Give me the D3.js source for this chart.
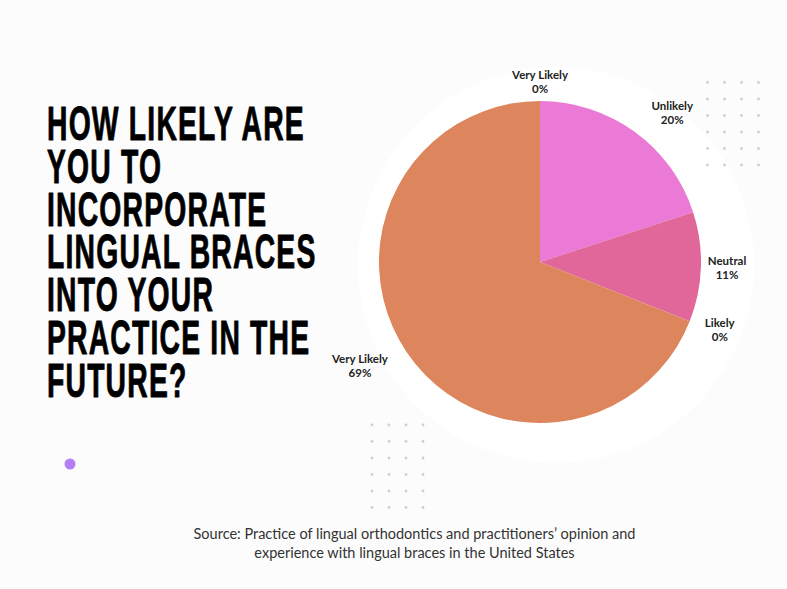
<!DOCTYPE html>
<html>
<head>
<meta charset="utf-8">
<script src="https://cdn.jsdelivr.net/npm/d3@7"></script>
<style>
  html, body { margin: 0; padding: 0; background: #fcfcfc; }
  svg { display: block; }
</style>
</head>
<body>
<script>
"use strict"

const WIDTH = 787
const HEIGHT = 589

// chart data
const categories = ["Very Likely", "Unlikely", "Neutral", "Likely", "Very Likely"]
const values = [0, 20, 11, 0, 69]
const sliceColors = ["#dd865e", "#ea7ad5", "#e1679a", "#dd865e", "#dd865e"]

const titleLines = [
    "HOW LIKELY ARE",
    "YOU TO",
    "INCORPORATE",
    "LINGUAL BRACES",
    "INTO YOUR",
    "PRACTICE IN THE",
    "FUTURE?"
]
const sourceLines = [
    "Source: Practice of lingual orthodontics and practitioners\u2019 opinion and",
    "experience with lingual braces in the United States"
]

const svg = d3.select("body")
    .append("svg")
    .attr("width", WIDTH)
    .attr("height", HEIGHT)

svg.append("rect")
    .attr("width", WIDTH)
    .attr("height", HEIGHT)
    .attr("fill", "#fcfcfc")

const cx = 540
const cy = 262
const radius = 161

// soft white disc behind the pie
svg.append("circle")
    .attr("cx", 556)
    .attr("cy", 265)
    .attr("r", 198)
    .attr("fill", "#ffffff")

// dot grids
const dotGrid = (x0, y0, cols, rows, step) => {
    const cells = d3.cross(d3.range(cols), d3.range(rows))
    svg.append("g")
        .selectAll("circle")
        .data(cells)
        .join("circle")
        .attr("cx", (d) => x0 + d[0] * step)
        .attr("cy", (d) => y0 + d[1] * 16.5)
        .attr("r", 1.4)
        .attr("fill", "#cfcfcf")
}
dotGrid(707.5, 82.5, 4, 6, 17)
dotGrid(372, 425, 4, 6, 17)

svg.append("circle")
    .attr("cx", 70)
    .attr("cy", 464)
    .attr("r", 5.5)
    .attr("fill", "#b57ef3")

// title
const title = svg.append("g")
    .attr("transform", "translate(47,0)")
const titleText = title.append("g")
titleText.selectAll("text")
    .data(titleLines)
    .join("text")
    .attr("x", 0)
    .attr("y", (d, i) => 140 + i * 42.8)
    .attr("font-family", "'Liberation Sans Narrow', 'Liberation Sans', Arial, sans-serif")
    .attr("font-weight", 700)
    .attr("font-size", "48px")
    .attr("letter-spacing", "2px")
    .attr("fill", "#000")
    .attr("stroke", "#000")
    .attr("stroke-width", 0.9)
    .attr("stroke-linejoin", "round")
    .text((d) => d)

const firstWidth = titleText.select("text").node().getComputedTextLength()
const sx = 258 / firstWidth
titleText.attr("transform", `scale(${sx},1)`)

// pie
const pie = d3.pie().sort(null).value((d) => d)
const arcs = pie(values)
const arc = d3.arc().innerRadius(0).outerRadius(radius)

const pieGroup = svg.append("g")
    .attr("transform", `translate(${cx},${cy})`)

pieGroup.selectAll("path")
    .data(arcs)
    .join("path")
    .attr("d", arc)
    .attr("fill", (d, i) => sliceColors[i])

// labels outside the pie
const labelGroup = pieGroup.append("g")
arcs.forEach((a, i) => {
    const mid = (a.startAngle + a.endAngle) / 2
    const s = Math.sin(mid)
    const c = -Math.cos(mid)
    const g = labelGroup.append("g")
    const t = g.append("text")
        .attr("font-family", "Lato, 'Open Sans', sans-serif")
        .attr("font-weight", 700)
        .attr("font-size", "11.5px")
        .attr("fill", "#222")
        .attr("text-anchor", "middle")
    t.append("tspan").attr("x", 0).attr("y", 0).text(categories[i])
    t.append("tspan").attr("x", 0).attr("y", 14).text(`${values[i]}%`)
    const box = t.node().getBBox()
    const r = radius + 6
    const side = Math.abs(s) < 0.05 ? 0 : Math.sign(s)
    const diag = Math.abs(s * c)
    const x = s * r + side * (box.width / 2 + 28 * diag)
    const y = c * r + c * (box.height / 2 + 8 * diag)
    g.attr("transform", `translate(${x - (box.x + box.width / 2)},${y - (box.y + box.height / 2)})`)
})

// source
svg.append("g")
    .selectAll("text")
    .data(sourceLines)
    .join("text")
    .attr("x", 414.5)
    .attr("y", (d, i) => 539 + i * 18.5)
    .attr("text-anchor", "middle")
    .attr("font-family", "Lato, 'Open Sans', sans-serif")
    .attr("font-size", "14.5px")
    .attr("fill", "#333")
    .text((d) => d)
</script>
</body>
</html>
